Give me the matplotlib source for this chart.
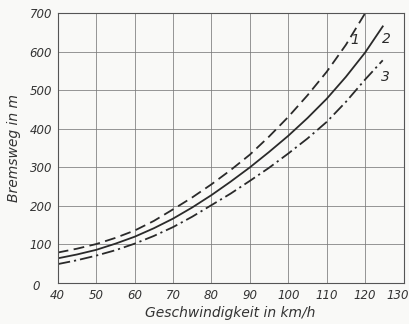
import matplotlib
matplotlib.use("Agg")
import matplotlib.pyplot as plt
from matplotlib.transforms import ScaledTranslation

speed = [40, 45, 50, 55, 60, 65, 70, 75, 80, 85, 90, 95, 100, 105, 110, 115, 120]
curve1 = [79, 89, 101, 117, 136, 161, 191, 222, 256, 293, 333, 380, 431, 487, 548, 618, 700]
speed23 = [40, 45, 50, 55, 60, 65, 70, 75, 80, 85, 90, 95, 100, 105, 110, 115, 120, 124.6]
curve2 = [64, 74, 86, 102, 120, 142, 167, 196, 228, 263, 300, 340, 382, 428, 478, 535, 598, 666]
curve3 = [49, 59, 71, 85, 102, 122, 145, 172, 202, 232, 265, 299, 336, 375, 418, 470, 528, 578]

x_ticks = [40, 50, 60, 70, 80, 90, 100, 110, 120, 130]
y_ticks = [0, 100, 200, 300, 400, 500, 600, 700]
curve_labels = ["1", "2", "3"]

W, H = 409, 324
fig = plt.figure(figsize=(W / 100, H / 100), dpi=100, facecolor="#f9f9f7")
ax = fig.add_axes([57.7 / W, 1 - 283 / H, (403.5 - 57.7) / W, (283 - 13.3) / H])
ax.set_facecolor("#f9f9f7")

ink = "#2a2a2a"
ax.plot(speed, curve1, color=ink, lw=1.3, dashes=(6, 3))
ax.plot(speed23, curve2, color=ink, lw=1.3)
ax.plot(speed23, curve3, color=ink, lw=1.3, dashes=(7, 2.2, 1.2, 2.2))

ax.set_xlim(40, 130)
ax.set_ylim(0, 700)
ax.set_xticks(x_ticks)
ax.set_yticks(y_ticks)
ax.grid(True, color="#7a7a7a", lw=0.55)
ax.set_axisbelow(True)
ax.tick_params(length=0, labelsize=8.5, labelcolor="#333333", pad=4)
for lbl in ax.get_xticklabels() + ax.get_yticklabels():
    lbl.set_fontstyle("italic")
for sp in ax.spines.values():
    sp.set_color("#555555")
    sp.set_linewidth(0.8)

# the "0" label sits further left and a little lower, at the corner
ylabels = ax.get_yticklabels()
ylabels[0].set_transform(ylabels[0].get_transform()
                         + ScaledTranslation(-12 / 100, -2 / 100, fig.dpi_scale_trans))
# keep "130" inside the picture
xlabels = ax.get_xticklabels()
xlabels[-1].set_transform(xlabels[-1].get_transform()
                          + ScaledTranslation(-6 / 100, 0, fig.dpi_scale_trans))

ax.set_xlabel("Geschwindigkeit in km/h", fontsize=10, fontstyle="italic",
              color="#333333", labelpad=3)
ax.set_ylabel("Bremsweg in m", fontsize=10, fontstyle="italic",
              color="#333333", labelpad=6)

ax.text(117.3, 630, curve_labels[0], fontsize=10, fontstyle="italic", color=ink,
        ha="center", va="center")
ax.text(125.6, 632, curve_labels[1], fontsize=10, fontstyle="italic", color=ink,
        ha="center", va="center")
ax.text(125.3, 534, curve_labels[2], fontsize=10, fontstyle="italic", color=ink,
        ha="center", va="center")

fig.savefig("out.png", dpi=100, facecolor=fig.get_facecolor())
